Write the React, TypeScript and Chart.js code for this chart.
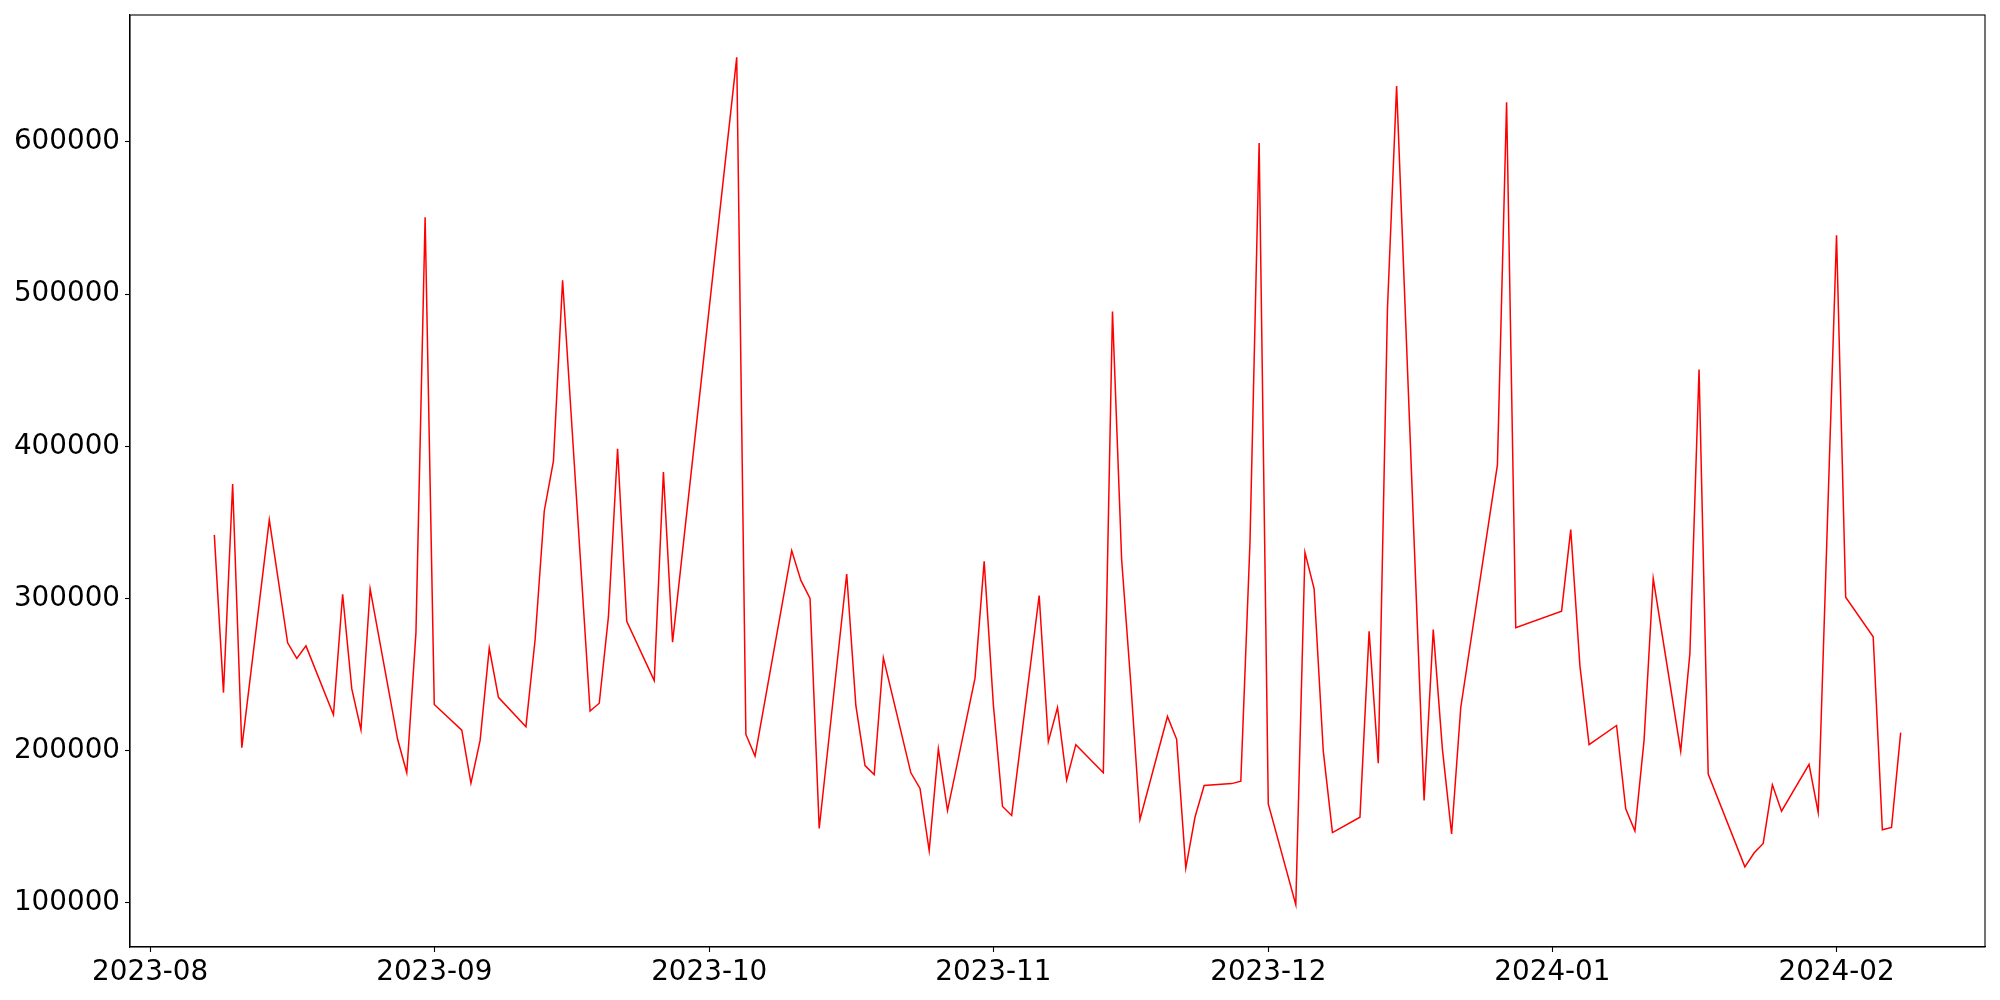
import React, { useEffect, useRef } from 'react';
import { Chart, registerables } from 'chart.js';

Chart.register(...registerables);

const dates = [
  '2023-08-08', '2023-08-09', '2023-08-10', '2023-08-11', '2023-08-14', '2023-08-16', '2023-08-17', '2023-08-18',
  '2023-08-21', '2023-08-22', '2023-08-23', '2023-08-24', '2023-08-25', '2023-08-28', '2023-08-29', '2023-08-30',
  '2023-08-31', '2023-09-01', '2023-09-04', '2023-09-05', '2023-09-06', '2023-09-07', '2023-09-08', '2023-09-11',
  '2023-09-12', '2023-09-13', '2023-09-14', '2023-09-15', '2023-09-18', '2023-09-19', '2023-09-20', '2023-09-21',
  '2023-09-22', '2023-09-25', '2023-09-26', '2023-09-27', '2023-10-04', '2023-10-05', '2023-10-06', '2023-10-10',
  '2023-10-11', '2023-10-12', '2023-10-13', '2023-10-16', '2023-10-17', '2023-10-18', '2023-10-19', '2023-10-20',
  '2023-10-23', '2023-10-24', '2023-10-25', '2023-10-26', '2023-10-27', '2023-10-30', '2023-10-31', '2023-11-01',
  '2023-11-02', '2023-11-03', '2023-11-06', '2023-11-07', '2023-11-08', '2023-11-09', '2023-11-10', '2023-11-13',
  '2023-11-14', '2023-11-15', '2023-11-16', '2023-11-17', '2023-11-20', '2023-11-21', '2023-11-22', '2023-11-23',
  '2023-11-24', '2023-11-27', '2023-11-28', '2023-11-29', '2023-11-30', '2023-12-01', '2023-12-04', '2023-12-05',
  '2023-12-06', '2023-12-07', '2023-12-08', '2023-12-11', '2023-12-12', '2023-12-13', '2023-12-14', '2023-12-15',
  '2023-12-18', '2023-12-19', '2023-12-20', '2023-12-21', '2023-12-22', '2023-12-26', '2023-12-27', '2023-12-28',
  '2024-01-02', '2024-01-03', '2024-01-04', '2024-01-05', '2024-01-08', '2024-01-09', '2024-01-10', '2024-01-11',
  '2024-01-12', '2024-01-15', '2024-01-16', '2024-01-17', '2024-01-18', '2024-01-22', '2024-01-23', '2024-01-24',
  '2024-01-25', '2024-01-26', '2024-01-29', '2024-01-30', '2024-02-01', '2024-02-02', '2024-02-05', '2024-02-06',
  '2024-02-07', '2024-02-08',
];

const values = [
  341800, 238200, 375200, 202000, 351600, 270900, 260700, 268900,
  223700, 302800, 240600, 213800, 306400, 207500, 185500, 277600,
  550400, 230400, 213500, 178700, 206800, 267400, 235100, 215800,
  272900, 357500, 390200, 509100, 226100, 231200, 287900, 398400,
  285100, 246100, 383100, 271300, 655500, 210700, 196500, 331500,
  311900, 300100, 148900, 316100, 229600, 190200, 184300, 261100,
  185500, 175200, 134300, 201200, 160700, 247700, 324400, 230400,
  163400, 157500, 302000, 206000, 228400, 180800, 204000, 185500,
  488600, 325500, 244000, 154800, 222500, 207500, 122900, 156300,
  177200, 178400, 180000, 336600, 599200, 165000, 98900, 330300,
  306400, 199700, 146200, 156300, 278400, 191800, 490000, 636600,
  167400, 279600, 200900, 145300, 228400, 387800, 626000, 280800,
  291700, 345300, 255900, 204000, 216600, 161900, 147300, 206800,
  313100, 199700, 263800, 450400, 184700, 123700, 132800, 139100,
  177600, 160300, 191000, 159500, 538600, 300900, 274900, 148100,
  149600, 211900,
];

const monthTicks = ['2023-08', '2023-09', '2023-10', '2023-11', '2023-12', '2024-01', '2024-02'];
const yTicks = [100000, 200000, 300000, 400000, 500000, 600000];

function toDay(s: string): number {
  const p = s.split('-').map(Number);
  return Date.UTC(p[0], p[1] - 1, p[2] || 1) / 86400000;
}

const framePlugin = {
  id: 'frame',
  afterDraw(chart: any) {
    const { ctx, chartArea } = chart;
    ctx.save();
    ctx.strokeStyle = '#000';
    ctx.lineWidth = 1.1;
    ctx.strokeRect(chartArea.left, chartArea.top, chartArea.right - chartArea.left, chartArea.bottom - chartArea.top);
    ctx.restore();
  },
};

export default function App() {
  const ref = useRef<HTMLCanvasElement | null>(null);

  useEffect(() => {
    if (!ref.current) return;
    const xs = dates.map(toDay);
    const pts = xs.map((x, i) => ({ x, y: values[i] }));
    const xMinD = Math.min(...xs);
    const xMaxD = Math.max(...xs);
    const xm = (xMaxD - xMinD) * 0.05;
    const yMinD = Math.min(...values);
    const yMaxD = Math.max(...values);
    const ym = (yMaxD - yMinD) * 0.05;
    const labelMap = new Map<number, string>();
    monthTicks.forEach((t) => labelMap.set(toDay(t + '-01'), t));
    const font = { family: 'DejaVu Sans', size: 27.8 };

    const chart = new Chart(ref.current, {
      type: 'line',
      data: {
        datasets: [
          {
            data: pts,
            borderColor: '#ff0000',
            borderWidth: 1.5,
            pointRadius: 0,
            tension: 0,
            fill: false,
          },
        ],
      },
      options: {
        animation: false,
        responsive: false,
        devicePixelRatio: 1,
        layout: { padding: { left: 0, right: 15, top: 15, bottom: 0 } },
        plugins: { legend: { display: false }, tooltip: { enabled: false } },
        scales: {
          x: {
            type: 'linear',
            min: xMinD - xm,
            max: xMaxD + xm,
            afterBuildTicks: (s: any) => {
              s.ticks = monthTicks.map((t) => ({ value: toDay(t + '-01') }));
            },
            afterFit: (s: any) => {
              s.height = 53;
              s.paddingLeft = 0;
              s.paddingRight = 0;
            },
            ticks: {
              callback: (v: any) => labelMap.get(Number(v)) ?? '',
              font,
              color: '#000',
              autoSkip: false,
              maxRotation: 0,
              minRotation: 0,
              padding: 4,
            },
            grid: { display: true, drawOnChartArea: false, drawTicks: true, tickLength: 5, tickColor: '#000', tickWidth: 1.1 },
            border: { display: true, color: '#000', width: 1.1 },
          },
          y: {
            type: 'linear',
            min: yMinD - ym,
            max: yMaxD + ym,
            afterBuildTicks: (s: any) => {
              s.ticks = yTicks.map((v) => ({ value: v }));
            },
            afterFit: (s: any) => {
              s.width = 130;
              s.paddingTop = 0;
              s.paddingBottom = 0;
            },
            ticks: {
              callback: (v: any) => String(v),
              font,
              color: '#000',
              autoSkip: false,
              padding: 5,
            },
            grid: { display: true, drawOnChartArea: false, drawTicks: true, tickLength: 5, tickColor: '#000', tickWidth: 1.1 },
            border: { display: true, color: '#000', width: 1.1 },
          },
        },
      },
      plugins: [framePlugin],
    } as any);

    return () => chart.destroy();
  }, []);

  return (
    <div style={{ position: 'absolute', left: 0, top: 0, width: 2000, height: 1000, background: '#fff' }}>
      <canvas ref={ref} width={2000} height={1000} style={{ width: 2000, height: 1000, display: 'block' }} />
    </div>
  );
}
